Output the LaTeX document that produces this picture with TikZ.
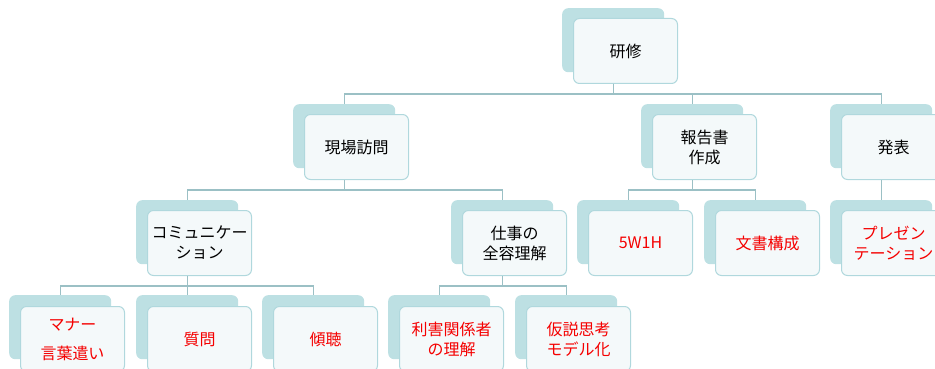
\documentclass[tikz,border=0pt]{standalone}
\usepackage{fontspec}
\setmainfont{Noto Sans CJK JP}
\usetikzlibrary{calc}
\definecolor{tealback}{RGB}{189,224,227}
\definecolor{frontborder}{RGB}{176,216,221}
\definecolor{frontfill}{RGB}{244,249,250}
\definecolor{connline}{RGB}{155,192,197}
\definecolor{leafred}{RGB}{245,0,0}
\tikzset{
  backbox/.style={fill=tealback, draw=none, rounded corners=6pt, minimum width=102pt, minimum height=64pt, inner sep=0pt, anchor=north west},
  frontbox/.style={fill=frontfill, draw=frontborder, line width=1pt, rounded corners=6pt, minimum width=104pt, minimum height=65pt, inner sep=1pt, anchor=north west, align=center, font=\fontsize{16}{20}\selectfont},
  leaf/.style={frontbox, text=leafred},
  conn/.style={draw=connline, line width=1.2pt},
}
\begin{document}
\begin{tikzpicture}[x=1pt,y=-1pt]
\useasboundingbox (0,0) rectangle (935,369);
\begin{scope}
\clip (0,0) rectangle (935,369);
% back boxes
\node[backbox] (bKenshu) at (562,8) {};
\node[backbox] (bGenba) at (293,104) {};
\node[backbox] (bHoukoku) at (641,104) {};
\node[backbox] (bHappyou) at (830,104) {};
\node[backbox] (bComm) at (136,200) {};
\node[backbox] (bShigoto) at (451,200) {};
\node[backbox] (bFive) at (577,200) {};
\node[backbox] (bBunsho) at (704,200) {};
\node[backbox] (bPresen) at (830,200) {};
\node[backbox] (bManner) at (9,295) {};
\node[backbox] (bShitsumon) at (136,295) {};
\node[backbox] (bKeichou) at (262,295) {};
\node[backbox] (bRigai) at (388,295) {};
\node[backbox] (bKasetsu) at (515,295) {};
% front boxes
\node[frontbox] (Kenshu) at (573,18) {研修};
\node[frontbox] (Genba) at (304,114) {現場訪問};
\node[frontbox] (Houkoku) at (652,114) {報告書\\作成};
\node[frontbox] (Happyou) at (841,114) {発表};
\node[frontbox] (Comm) at (147,210) {コミュニケー\\ション};
\node[frontbox] (Shigoto) at (462,210) {仕事の\\全容理解};
\node[leaf] (Five) at (588,210) {5W1H};
\node[leaf] (Bunsho) at (715,210) {文書構成};
\node[leaf] (Presen) at (841,210) {プレゼン\\テーション};
\node[leaf] (Manner) at (20,306) {マナー\\[9pt]言葉遣い};
\node[leaf] (Shitsumon) at (147,306) {質問};
\node[leaf] (Keichou) at (273,306) {傾聴};
\node[leaf] (Rigai) at (399,306) {利害関係者\\の理解};
\node[leaf] (Kasetsu) at (526,306) {仮説思考\\モデル化};
% connectors
\foreach \p/\c in {Kenshu/Genba, Kenshu/Houkoku, Kenshu/Happyou,
                   Genba/Comm, Genba/Shigoto,
                   Houkoku/Five, Houkoku/Bunsho, Happyou/Presen,
                   Comm/Manner, Comm/Shitsumon, Comm/Keichou,
                   Shigoto/Rigai, Shigoto/Kasetsu}{
  \draw[conn] (b\p.center |- \p.south) -- ++(0,10) -| (b\c.north);
}
\end{scope}
\end{tikzpicture}
\end{document}
